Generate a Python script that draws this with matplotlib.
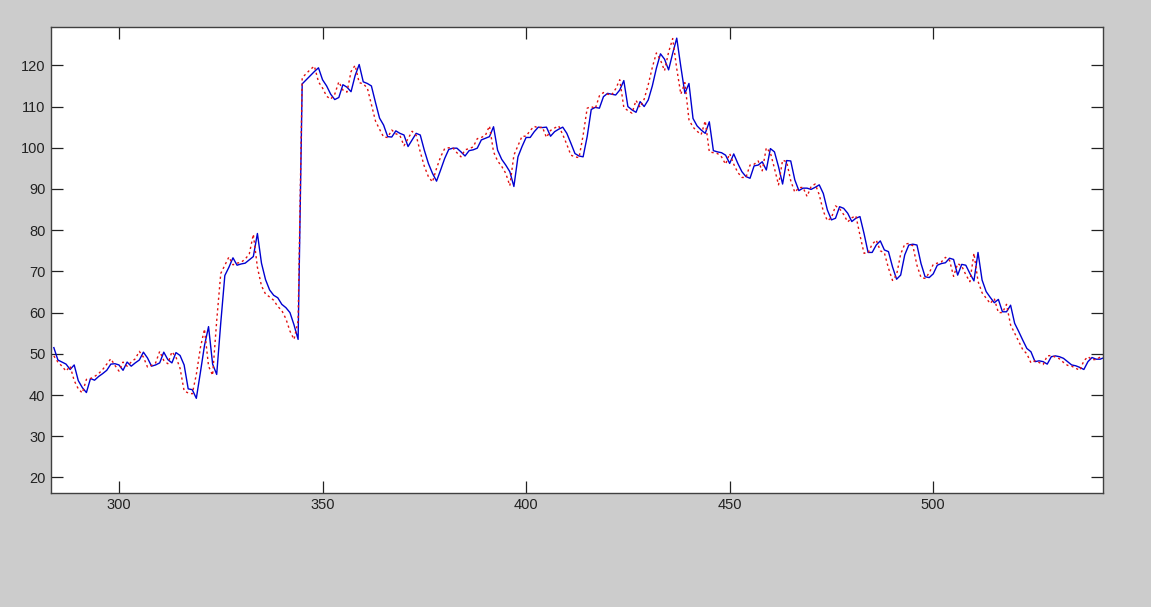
import numpy as np
import matplotlib
matplotlib.use("Agg")
import matplotlib.pyplot as plt

plt.rcParams["font.family"] = ["Liberation Sans", "DejaVu Sans"]

# sample index of the first point
x_start = 284

# solid blue series
blue = [
    51.5, 48.5, 48.0, 47.5, 46.2, 47.3, 43.5, 41.8, 40.6, 44.0,
    43.6, 44.5, 45.2, 46.0, 47.5, 47.6, 47.3, 46.0, 48.0, 47.0,
    47.8, 48.5, 50.4, 49.0, 47.0, 47.3, 47.8, 50.4, 48.6, 47.8,
    50.3, 49.6, 47.3, 41.5, 41.3, 39.2, 45.5, 52.0, 56.6, 47.5,
    45.0, 57.5, 69.0, 71.0, 73.3, 71.5, 71.8, 72.0, 72.8, 73.6,
    79.2, 72.0, 68.0, 65.5, 64.2, 63.6, 62.0, 61.2, 60.0, 57.0,
    53.5, 115.5, 116.5, 117.5, 118.5, 119.4, 116.5, 115.0, 113.0, 111.7,
    112.2, 115.3, 114.7, 113.6, 117.5, 120.2, 116.0, 115.6, 115.0, 111.0,
    107.2, 105.5, 102.7, 102.6, 104.1, 103.5, 103.1, 100.3, 101.9, 103.5,
    103.1, 99.4, 96.2, 93.8, 91.9, 94.6, 97.4, 99.6, 99.9, 99.9,
    99.0, 98.0, 99.3, 99.5, 99.9, 101.9, 102.3, 102.7, 105.1, 99.4,
    97.2, 95.8, 94.2, 90.6, 97.8, 100.3, 102.5, 102.5, 103.9, 105.0,
    104.9, 105.0, 102.8, 103.9, 104.5, 105.0, 103.5, 101.1, 98.6, 98.0,
    97.8, 102.7, 109.3, 109.8, 109.6, 112.4, 113.2, 113.0, 112.8, 114.0,
    116.3, 110.0, 109.2, 108.6, 111.2, 110.0, 111.6, 115.0, 119.3, 122.8,
    121.5, 118.9, 122.9, 126.6, 119.7, 113.2, 115.6, 107.1, 105.3, 104.3,
    103.5, 106.3, 99.3, 99.0, 98.8, 98.2, 96.2, 98.5, 96.2, 94.2,
    93.0, 92.6, 95.6, 95.8, 96.6, 94.6, 99.8, 99.0, 95.4, 91.2,
    96.9, 96.8, 92.2, 89.6, 90.2, 90.2, 89.9, 90.4, 91.0, 88.9,
    84.9, 82.5, 82.9, 85.7, 85.3, 84.1, 82.1, 82.9, 83.3, 79.2,
    74.6, 74.6, 76.4, 77.4, 75.2, 74.8, 71.1, 68.1, 69.1, 74.0,
    76.4, 76.6, 76.4, 71.9, 68.7, 68.5, 69.4, 71.5, 71.9, 72.1,
    73.2, 72.9, 69.1, 71.7, 71.5, 69.5, 67.7, 74.6, 67.9, 65.1,
    63.7, 62.4, 63.2, 60.2, 60.2, 61.8, 57.4, 55.4, 53.3, 51.3,
    50.5, 48.1, 48.3, 48.1, 47.5, 49.3, 49.5, 49.3, 48.9, 48.1,
    47.3, 47.1, 46.7, 46.2, 48.1, 49.1, 48.7, 48.7, 49.1, 49.3,
]

# dotted red series
red = [
    49.5, 48.0, 47.0, 45.8, 47.0, 43.5, 41.5, 40.5, 43.8, 44.0,
    44.5, 45.2, 46.2, 47.5, 48.8, 47.2, 45.8, 48.0, 47.0, 48.0,
    48.8, 50.6, 49.2, 46.8, 47.2, 47.8, 50.6, 48.4, 47.6, 50.5,
    49.2, 46.5, 41.0, 40.5, 40.3, 45.0, 51.5, 56.0, 47.0, 44.8,
    58.0, 69.5, 71.5, 73.5, 71.6, 72.0, 72.2, 73.0, 74.2, 79.0,
    71.0, 66.5, 64.5, 63.8, 63.0, 61.5, 60.5, 58.5, 55.5, 53.5,
    58.0, 117.0, 118.0, 119.0, 119.8, 116.0, 114.5, 112.5, 111.8, 113.0,
    116.0, 114.0, 113.5, 118.5, 120.0, 115.8, 115.5, 114.5, 110.5, 106.5,
    104.5, 102.6, 102.5, 104.3, 103.4, 103.0, 100.5, 102.2, 104.0, 103.0,
    99.0, 95.5, 93.0, 91.7, 95.0, 97.8, 99.8, 100.0, 100.0, 98.8,
    97.8, 99.5, 99.8, 100.2, 102.2, 102.5, 103.0, 105.3, 99.0, 96.8,
    95.5, 93.8, 90.8, 98.2, 100.5, 102.8, 102.8, 104.2, 105.2, 104.8,
    105.0, 102.5, 104.2, 104.8, 105.3, 103.2, 100.8, 98.2, 97.8, 97.6,
    103.0, 109.6, 110.0, 109.5, 112.6, 113.4, 113.0, 112.8, 114.3, 116.5,
    109.8, 109.0, 108.4, 111.5, 109.8, 111.8, 115.3, 119.5, 123.0, 121.3,
    118.7, 123.2, 126.5, 119.2, 113.0, 115.8, 106.8, 105.0, 104.0, 103.2,
    106.5, 99.0, 98.8, 98.6, 97.8, 96.0, 98.6, 96.0, 94.0, 92.8,
    92.8, 95.8, 96.0, 96.8, 94.4, 100.0, 98.8, 95.0, 91.0, 97.0,
    96.6, 92.0, 89.2, 90.3, 90.4, 88.2, 90.6, 91.2, 88.6, 84.6,
    82.3, 83.0, 85.9, 85.2, 83.8, 82.0, 83.0, 83.5, 78.8, 74.4,
    74.5, 76.6, 77.6, 75.0, 74.5, 70.8, 67.8, 69.2, 74.2, 76.6,
    76.8, 76.2, 71.5, 68.5, 68.3, 69.6, 71.7, 72.0, 72.3, 73.4,
    72.7, 68.8, 71.9, 71.3, 69.2, 67.5, 74.4, 67.6, 64.8, 63.5,
    62.2, 63.4, 60.0, 60.0, 62.0, 57.0, 55.0, 53.0, 51.0, 50.0,
    47.8, 48.3, 47.9, 47.4, 49.5, 49.6, 49.2, 48.8, 47.9, 47.2,
    47.0, 46.5, 46.0, 48.3, 49.3, 48.6, 48.6, 49.2, 49.5, 49.6,
]

x_ticks = [300, 350, 400, 450, 500]
y_ticks = [20, 30, 40, 50, 60, 70, 80, 90, 100, 110, 120]

x_blue = np.arange(x_start, x_start + len(blue))
x_red = np.arange(x_start, x_start + len(red))

fig = plt.figure(figsize=(11.51, 6.07), dpi=100, facecolor="#cccccc")
ax = fig.add_axes([0.0443, 0.1883, 0.914, 0.7672])
ax.set_facecolor("white")

ax.plot(x_blue, blue, color="#0000d0", linewidth=1.0)
ax.plot(x_red, red, color="#e01010", linewidth=1.0, linestyle=(0, (1.6, 2.2)))

ax.set_xlim(283.3, 541.7)
ax.set_ylim(16.3, 129.3)
ax.set_xticks(x_ticks)
ax.set_yticks(y_ticks)

ax.tick_params(direction="in", length=8.5, width=0.9, top=True, right=True,
               labelsize=10.5, colors="#222222", pad=4)
for sp in ax.spines.values():
    sp.set_color("#404040")
    sp.set_linewidth(1.0)

fig.savefig("out.png", dpi=100, facecolor=fig.get_facecolor())
